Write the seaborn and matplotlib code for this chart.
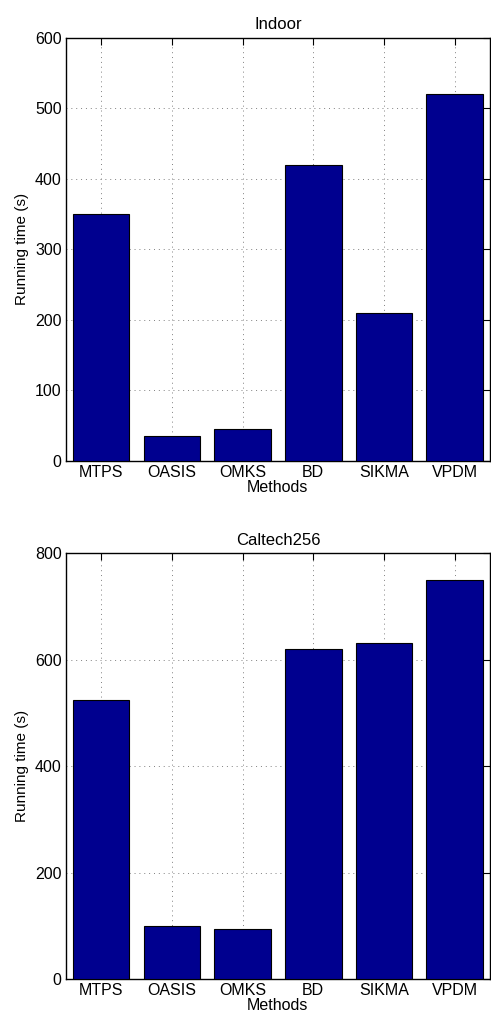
import pandas as pd
import matplotlib
matplotlib.use('Agg')
import matplotlib.pyplot as plt
import seaborn as sns

# Data
methods = ['MTPS', 'OASIS', 'OMKS', 'BD', 'SIKMA', 'VPDM']
indoor_time = [350, 35, 45, 420, 210, 520]
caltech_time = [525, 100, 95, 620, 632, 750]

sns.set_style('white', {'text.color': 'black', 'axes.labelcolor': 'black',
                        'xtick.color': 'black', 'ytick.color': 'black'})
plt.rcParams['font.family'] = ['Liberation Sans', 'DejaVu Sans']
plt.rcParams['font.size'] = 11.5

bar_color = '#00008F'

fig = plt.figure(figsize=(4.91, 10.19), dpi=100)
ax1 = fig.add_axes([0.134, 0.548, 0.864, 0.415])
ax2 = fig.add_axes([0.134, 0.039, 0.864, 0.418])

panels = [
    (ax1, 'Indoor', indoor_time, 600, [0, 100, 200, 300, 400, 500, 600]),
    (ax2, 'Caltech256', caltech_time, 800, [0, 200, 400, 600, 800]),
]

for ax, title, values, ymax, yticks in panels:
    df = pd.DataFrame({'Methods': methods, 'time': values})
    sns.barplot(data=df, x='Methods', y='time', color=bar_color, saturation=1,
                edgecolor='black', linewidth=0.8, width=0.8, ax=ax, zorder=3)
    ax.set_xlim(-0.5, 5.5)
    ax.set_ylim(0, ymax)
    ax.set_yticks(yticks)
    ax.set_title(title, fontsize=12, pad=6, color='black')
    ax.set_xlabel('Methods', fontsize=11.5, labelpad=0, color='black')
    ax.set_ylabel('Running time (s)', fontsize=11, color='black')
    ax.grid(True, linestyle=(0, (1, 4)), color='#808080', linewidth=0.7, zorder=0)
    ax.set_axisbelow(True)
    ax.tick_params(direction='in', top=True, right=True, length=5,
                   width=0.8, labelsize=11.5, pad=3, colors='black')
    for sp in ax.spines.values():
        sp.set_visible(True)
        sp.set_color('black')
        sp.set_linewidth(1.0)

fig.savefig('out.png', dpi=100)
